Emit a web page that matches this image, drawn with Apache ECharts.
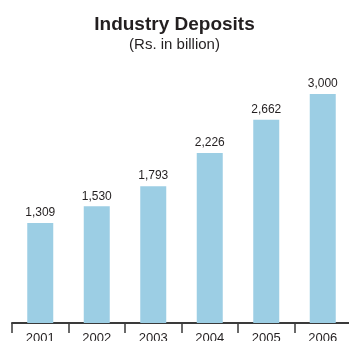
<!DOCTYPE html>
<html>
<head>
<meta charset="utf-8">
<script src="https://cdn.jsdelivr.net/npm/echarts@6/dist/echarts.min.js"></script>
<style>
  html, body { margin: 0; padding: 0; background: #fff; }
  #chart { width: 349px; height: 341px; }
</style>
</head>
<body>
<div id="chart"></div>
<script>
// Industry deposits by year, Rs. in billion
const years = ['2001', '2002', '2003', '2004', '2005', '2006'];
const deposits = [1309, 1530, 1793, 2226, 2662, 3000];

const titleText = 'Industry Deposits';
const subtitleText = '(Rs. in billion)';

const chart = echarts.init(document.getElementById('chart'), null, { renderer: 'canvas' });

chart.setOption({
  backgroundColor: '#ffffff',
  animation: false,
  title: {
    text: titleText,
    subtext: subtitleText,
    left: 'center',
    top: 10,
    itemGap: 3,
    textStyle: {
      fontFamily: '"Liberation Sans", Arial, sans-serif',
      fontWeight: 'bold',
      fontSize: 19,
      color: '#231f20'
    },
    subtextStyle: {
      fontFamily: '"Liberation Sans", Arial, sans-serif',
      fontSize: 15,
      color: '#231f20'
    }
  },
  grid: {
    left: 12,
    top: 94,
    width: 339,
    bottom: 18,
    containLabel: false,
    // the year labels run off the bottom edge; keep the plot where it is
    outerBoundsMode: 'none'
  },
  xAxis: {
    type: 'category',
    data: years,
    boundaryGap: true,
    axisLine: { show: true, lineStyle: { color: '#3a3a3a', width: 2 } },
    axisTick: { show: true, alignWithLabel: false, length: 10, lineStyle: { color: '#3a3a3a', width: 1.5 } },
    axisLabel: {
      margin: 9,
      fontFamily: '"Liberation Sans", Arial, sans-serif',
      fontSize: 13,
      color: '#231f20'
    },
    splitLine: { show: false }
  },
  yAxis: {
    type: 'value',
    min: 0,
    max: 3000,
    show: false
  },
  series: [{
    type: 'bar',
    data: deposits,
    barWidth: 26,
    itemStyle: { color: '#9ccee4' },
    label: {
      show: true,
      position: 'top',
      distance: 4,
      formatter: p => p.value.toLocaleString('en-US'),
      fontFamily: '"Liberation Sans", Arial, sans-serif',
      fontSize: 12,
      color: '#231f20'
    }
  }]
});
</script>
</body>
</html>
